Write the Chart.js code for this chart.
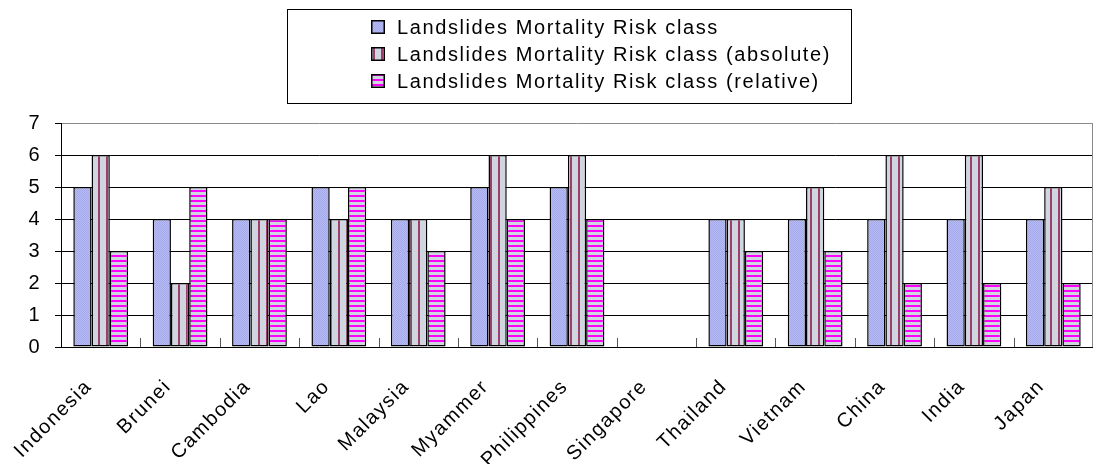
<!DOCTYPE html>
<html><head><meta charset="utf-8">
<script src="https://cdn.jsdelivr.net/npm/chart.js@4.4.1/dist/chart.umd.min.js"></script>
<style>
html,body{margin:0;padding:0;background:#fff;}
#wrap{position:relative;width:1095px;height:464px;}
#legend{position:absolute;left:287px;top:9px;width:565px;height:95px;border:1px solid #000;box-sizing:border-box;font-family:"Liberation Sans",Arial,sans-serif;font-size:20px;letter-spacing:1.6px;color:#000;}
.item{position:absolute;left:83px;height:22px;line-height:22px;white-space:nowrap;}
.item canvas{position:absolute;left:0;top:4px;width:14px;height:14px;}
.item span{position:absolute;left:26px;top:0;}
</style></head>
<body><div id="wrap"><canvas id="c" width="1095" height="464"></canvas>
<div id="legend"></div></div>
<script>
const categories=["Indonesia","Brunei","Cambodia","Lao","Malaysia","Myammer","Philippines","Singapore","Thailand","Vietnam","China","India","Japan"];
const seriesNames=["Landslides Mortality Risk class","Landslides Mortality Risk class (absolute)","Landslides Mortality Risk class (relative)"];
const riskClass=[5,4,4,5,4,5,5,null,4,4,4,4,4];
const riskAbsolute=[6,2,4,4,4,6,6,null,4,5,6,6,5];
const riskRelative=[3,5,4,5,3,4,4,null,3,3,2,2,2];
const yTicks=[0,1,2,3,4,5,6,7];

function mkPattern(kind){
  const c=document.createElement('canvas');const x=c.getContext('2d');
  if(kind===0){c.width=2;c.height=2;x.fillStyle='#b6bcf3';x.fillRect(0,0,2,2);x.fillStyle='#a3a9ea';x.fillRect(0,0,1,1);x.fillRect(1,1,1,1);}
  else if(kind===1){c.width=8;c.height=1;x.fillStyle='#cfd6df';x.fillRect(0,0,8,1);x.fillStyle='#9c3f6c';x.fillRect(2,0,2,1);}
  else {c.width=1;c.height=5;x.fillStyle='#cfd6df';x.fillRect(0,0,1,5);x.fillStyle='#ff00ff';x.fillRect(0,0,1,2);}
  return c;
}
const ctx=document.getElementById('c').getContext('2d');
const pats=[0,1,2].map(k=>ctx.createPattern(mkPattern(k),'repeat'));

// HTML legend
const lg=document.getElementById('legend');
seriesNames.forEach((n,i)=>{
  const d=document.createElement('div');d.className='item';d.style.top=(6+i*27)+'px';
  const sw=document.createElement('canvas');sw.width=14;sw.height=14;
  const sx=sw.getContext('2d');sx.fillStyle=sx.createPattern(mkPattern(i),'repeat');sx.fillRect(0,0,14,14);
  sx.strokeStyle='#000';sx.lineWidth=1.5;sx.strokeRect(0.75,0.75,12.5,12.5);
  const sp=document.createElement('span');sp.textContent=n;
  d.appendChild(sw);d.appendChild(sp);lg.appendChild(d);
});

const spacing={id:'spacing',
  beforeUpdate(chart){chart.ctx.letterSpacing='1.5px';},
  beforeDraw(chart){chart.ctx.letterSpacing='1.5px';}};

const innerTicks={id:'innerTicks',afterDatasetsDraw(chart){
  const xs=chart.scales.x,ca=chart.chartArea,c=chart.ctx;c.save();c.strokeStyle='#555';c.lineWidth=1;
  for(let i=1;i<categories.length;i++){const px=Math.round((xs.getPixelForTick(i-1)+xs.getPixelForTick(i))/2)+0.5;
    c.beginPath();c.moveTo(px,ca.bottom);c.lineTo(px,ca.bottom-9);c.stroke();}
  c.restore();}};

new Chart(ctx,{type:'bar',
  data:{labels:categories,datasets:[riskClass,riskAbsolute,riskRelative].map((d,i)=>({
    label:seriesNames[i],data:d,backgroundColor:pats[i],borderColor:'#000',borderWidth:1.5,borderSkipped:false,
    categoryPercentage:0.69,barPercentage:1.0}))},
  options:{responsive:false,animation:false,
    layout:{padding:{top:123,right:2,left:0,bottom:0}},
    plugins:{legend:{display:false},tooltip:{enabled:false}},
    scales:{
      x:{grid:{display:false},border:{display:false},
         ticks:{color:'#000',font:{family:'Liberation Sans',size:20},maxRotation:45,minRotation:45,padding:20,labelOffset:-12},
         afterFit(s){s.height=117;}},
      y:{min:0,max:7,afterBuildTicks(s){s.ticks=yTicks.map(v=>({value:v}));},
         grid:{color:c=>c.tick&&c.tick.value===7?'#8a8a8a':'#000',lineWidth:1,tickLength:6,tickColor:'#000'},
         border:{display:true,color:'#000',width:1},
         ticks:{color:'#000',font:{family:'Liberation Sans',size:20},padding:14},
         afterFit(s){s.width=61;}}
    }},
  plugins:[spacing,innerTicks,{id:'rightBorder',afterDraw(chart){const ca=chart.chartArea,c=chart.ctx;c.save();c.strokeStyle='#8a8a8a';c.beginPath();c.moveTo(ca.right-0.5,ca.top);c.lineTo(ca.right-0.5,ca.bottom);c.stroke();c.restore();}}]
});
</script></body></html>
